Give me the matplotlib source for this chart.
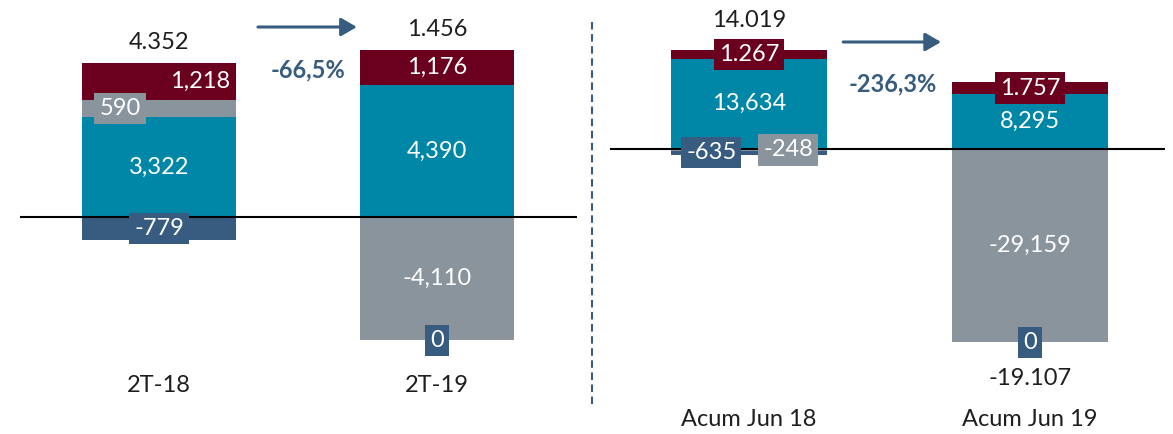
import matplotlib
matplotlib.use("Agg")
import matplotlib.pyplot as plt
from matplotlib.lines import Line2D

# ---------------------------------------------------------------------------
# Data
# ---------------------------------------------------------------------------

CATS_Q = ["2T-18", "2T-19"]
TEAL_Q = [3322, 4390]
GREY_Q = [590, -4110]
MAROON_Q = [1218, 1176]
NAVY_Q = [-779, 0]
TOTAL_Q = [4352, 1456]
CHANGE_Q = "-66,5%"

CATS_H = ["Acum Jun 18", "Acum Jun 19"]
TEAL_H = [13634, 8295]
GREY_H = [-248, -29159]
MAROON_H = [1267, 1757]
NAVY_H = [-635, 0]
TOTAL_H = [14019, -19107]
CHANGE_H = "-236,3%"

# ---------------------------------------------------------------------------
# Style
# ---------------------------------------------------------------------------

TEAL = "#0086a6"
GREY = "#89949d"
MAROON = "#6b001e"
NAVY = "#375c80"
TXT = "#1e1e1e"
FS = 17
BAR_W = 0.555

plt.rcParams["font.family"] = ["Lato", "DejaVu Sans"]


def fmt(v, sep):
    return f"{v:,}".replace(",", sep)


def draw_panel(ax, cats, series, totals, boxed, dx, seps, total_off):
    """series: list of (name, values, colour) stacked in order,
    positives upward and negatives (and zeros) downward from zero."""
    n = len(cats)
    pos = [0.0] * n
    neg = [0.0] * n
    for name, vals, col in series:
        for i, v in enumerate(vals):
            up = v > 0
            base = pos[i] if up else neg[i]
            ax.bar(i, v, bottom=base, width=BAR_W, color=col, lw=0, zorder=2)
            mid = base + v / 2
            if up:
                pos[i] += v
            else:
                neg[i] += v
            txt = fmt(v, seps.get(name, ","))
            kw = dict(ha="center", va="center", color="white", fontsize=FS,
                      zorder=5)
            if (name, i) in boxed:
                kw["bbox"] = dict(boxstyle="square,pad=0.22", fc=col, ec="none")
            ax.text(i + dx.get((name, i), 0.0), mid, txt, **kw)

    for i, t in enumerate(totals):
        if t >= 0:
            y, off = pos[i], total_off[i]
        else:
            y, off = neg[i], -total_off[i]
        ax.annotate(fmt(t, "."), xy=(i, y), xytext=(0, off),
                    textcoords="offset points", ha="center", va="center",
                    color=TXT, fontsize=FS)

    ax.axhline(0, color="black", lw=1.5, zorder=3)
    ax.set_xticks([])
    ax.set_yticks([])
    for s in ax.spines.values():
        s.set_visible(False)
    ax.patch.set_alpha(0)


def draw_change(ax, x0, x1, ya, xt, yt, label):
    ax.annotate("", xy=(x1, ya), xytext=(x0, ya),
                arrowprops=dict(arrowstyle="-|>,head_length=0.95,head_width=0.55",
                                color=NAVY, lw=2.2, shrinkA=0, shrinkB=0))
    ax.text(xt, yt, label, ha="center", va="center", color=NAVY,
            fontsize=FS, fontweight="bold")


fig = plt.figure(figsize=(11.73, 4.34), dpi=100)
W, H = 1173.0, 434.0

# ---- quarter panel ----
ax1 = fig.add_axes([20 / W, 0, 557 / W, 1])
ax1.set_xlim(-0.5, 1.504)
ax1.set_ylim(-(H - 217) / 0.0300, 217 / 0.0300)
draw_panel(
    ax1, CATS_Q,
    [("teal", TEAL_Q, TEAL), ("grey", GREY_Q, GREY),
     ("maroon", MAROON_Q, MAROON), ("navy", NAVY_Q, NAVY)],
    TOTAL_Q,
    boxed={("grey", 0), ("navy", 0), ("navy", 1)},
    dx={("grey", 0): -0.14, ("maroon", 0): 0.148},
    seps={},
    total_off=[15, 14.5],
)
for i, c in enumerate(CATS_Q):
    ax1.text(i, 1 - 385 / H, c, transform=ax1.get_xaxis_transform(),
             ha="center", va="center", color=TXT, fontsize=FS)
draw_change(ax1, 0.356, 0.712, 6333, 0.536, 4900, CHANGE_Q)

# ---- accumulated panel ----
ax2 = fig.add_axes([610 / W, 0, 555 / W, 1])
ax2.set_xlim(-0.495, 1.48)
ax2.set_ylim(-(H - 149) / 0.00663, 149 / 0.00663)
draw_panel(
    ax2, CATS_H,
    [("teal", TEAL_H, TEAL), ("grey", GREY_H, GREY),
     ("maroon", MAROON_H, MAROON), ("navy", NAVY_H, NAVY)],
    TOTAL_H,
    boxed={("grey", 0), ("navy", 0), ("maroon", 0), ("maroon", 1),
           ("navy", 1)},
    dx={("grey", 0): 0.139, ("navy", 0): -0.135},
    seps={"maroon": "."},
    total_off=[21.5, 26],
)
for i, c in enumerate(CATS_H):
    ax2.text(i, 1 - 420 / H, c, transform=ax2.get_xaxis_transform(),
             ha="center", va="center", color=TXT, fontsize=FS)
draw_change(ax2, 0.335, 0.683, 16139, 0.512, 9804, CHANGE_H)

# dashed divider between the two panels
fig.add_artist(Line2D([592 / W, 592 / W], [1 - 22 / H, 1 - 405 / H],
                      transform=fig.transFigure, color=NAVY, lw=1.5,
                      ls=(0, (3.6, 2.2))))

fig.savefig("out.png", dpi=100)
